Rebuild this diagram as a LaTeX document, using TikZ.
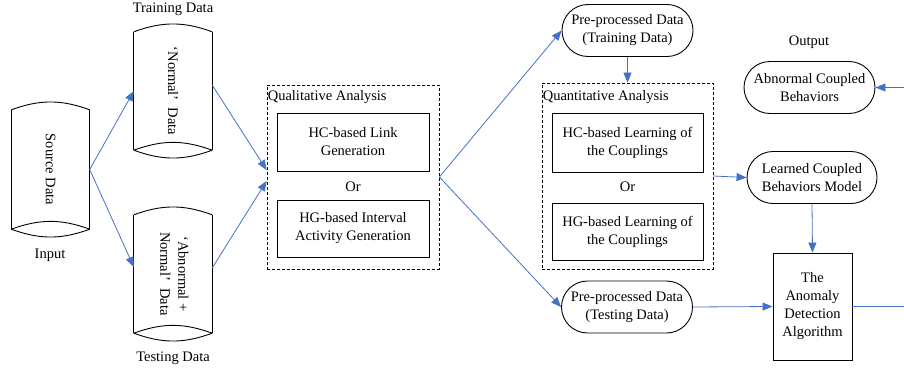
\documentclass[tikz,border=0pt]{standalone}
\usepackage{fontspec}
\setmainfont{Liberation Serif}
\usepackage{tikz}
\usetikzlibrary{arrows.meta, positioning, shapes.misc, calc}
\definecolor{flowblue}{RGB}{68,114,196}

\begin{document}
\begin{tikzpicture}[x=1pt, y=1pt,
    every node/.style={font=\fontsize{14.5}{18}\selectfont, align=center, inner sep=0pt},
    drum/.style={draw=none, minimum width=78pt},
    block/.style={draw, line width=0.9pt},
    stadium/.style={draw, line width=0.9pt, rounded rectangle, minimum width=131pt, minimum height=52pt},
    group/.style={draw, line width=0.8pt, dash pattern=on 3pt off 2pt},
    flow/.style={draw=flowblue, line width=0.8pt, -{Triangle[length=10pt, width=8pt]}}]
\clip (0,0) rectangle (904,373);
\useasboundingbox (0,0) rectangle (904,373);

% Input data stores
\node[drum, minimum height=119pt] (src) at (50.5,203.5) {\rotatebox{-90}{Source Data}};
\node[drum, minimum height=118pt] (train) at (173,282) {\rotatebox{-90}{‘Normal’\ \ Data}};
\node[drum, minimum height=118pt] (test) at (173,99) {\rotatebox{-90}{\begin{tabular}{@{}c@{}}‘Abnormal +\\Normal’\ \ Data\end{tabular}}};
\foreach \n in {src, train, test} {
    \draw[line width=0.9pt] (\n.north west) -- (\n.south west) (\n.north east) -- (\n.south east);
    \draw[line width=0.9pt] (\n.north west) to[bend left=20] (\n.north east);
    \draw[line width=0.9pt] (\n.south west) to[bend left=20] (\n.south east);
    \draw[line width=0.9pt] (\n.south west) to[bend right=20] (\n.south east);
}
\node (intxt) at (50,118) {Input};
\node (traintxt) at (173,364) {Training Data};
\node (testtxt) at (173,15) {Testing Data};

% Qualitative analysis
\node[group, minimum width=172pt, minimum height=184pt] (qual) at (353,196) {};
\node[anchor=north west] (qualtxt) at ($(qual.north west)+(1,-6)$) {Qualitative Analysis};
\node[block, minimum width=152pt, minimum height=58pt] (hcl) at (353,231) {HC-based Link\\Generation};
\node (or1) at (353,186) {Or};
\node[block, minimum width=152pt, minimum height=57pt] (hgi) at (353,144.5) {HG-based Interval\\Activity Generation};

% Pre-processed data
\node[stadium] (pretrain) at (627.5,342.5) {Pre-processed Data\\(Training Data)};
\node[stadium] (pretest) at (627,66) {Pre-processed Data\\(Testing Data)};

% Quantitative analysis
\node[group, minimum width=171pt, minimum height=186pt] (quant) at (627.5,197) {};
\node[anchor=north west] (quanttxt) at ($(quant.north west)+(1,-8)$) {Quantitative Analysis};
\node[block, minimum width=151pt, minimum height=59pt] (hcc) at (627.5,230.5) {HC-based Learning of\\the Couplings};
\node (or2) at (627.5,186) {Or};
\node[block, minimum width=151pt, minimum height=57pt] (hgc) at (627.5,141.5) {HG-based Learning of\\the Couplings};

% Model, detection and output
\node (outtxt) at (809,331) {Output};
\node[stadium] (abnormal) at (809.5,285.5) {Abnormal Coupled\\Behaviors};
\node[stadium, minimum width=130pt] (learned) at (812,195.5) {Learned Coupled\\Behaviors Model};
\node[block, minimum width=79pt, minimum height=107pt] (algo) at (812.5,66.5) {The\\Anomaly\\Detection\\Algorithm};
\coordinate (edge) at (930,66.5);

% Connectors
\draw[flow] (src.east) -- (train.west);
\draw[flow] (src.east) -- ([yshift=7pt]test.west);
\draw[flow] ([yshift=6pt]train.east) -- ([yshift=7pt]qual.west);
\draw[flow] ([yshift=6pt]test.east) -- ([yshift=-4pt]qual.west);
\draw[flow] (qual.east) -- (pretrain.west);
\draw[flow] (qual.east) -- (pretest.west);
\draw[flow] (pretrain.south) -- (quant.north);
\draw[flow] (quant.east) -- (learned.west);
\draw[flow] (learned.south) -- (algo.north);
\draw[flow] (pretest.east) -- (algo.west);
\draw[flow] (algo.east) -- (edge) |- (abnormal.east);
\end{tikzpicture}
\end{document}
